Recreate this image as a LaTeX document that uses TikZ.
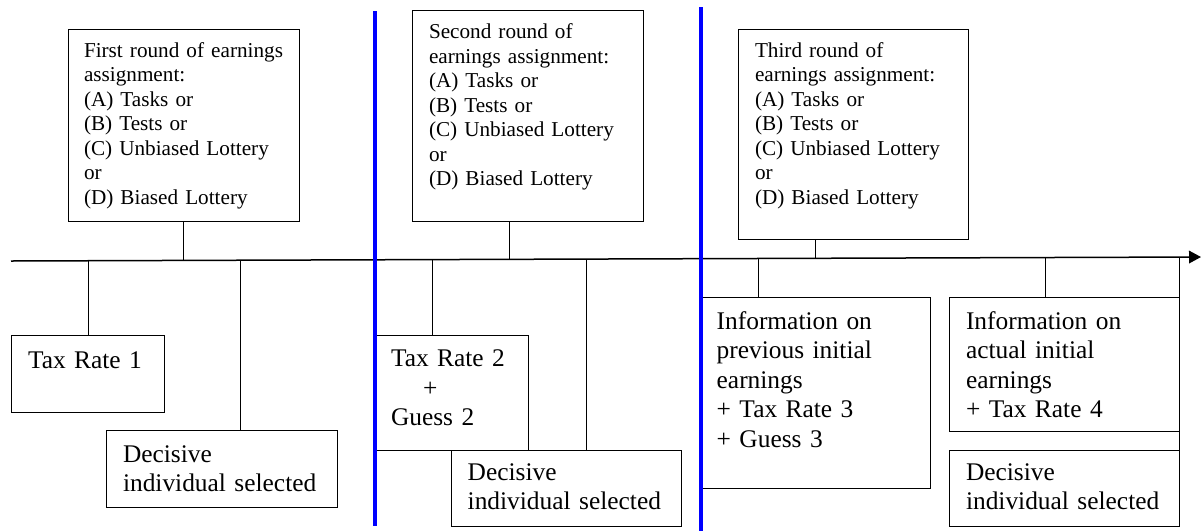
\documentclass[tikz,border=0pt]{standalone}
\usepackage{fontspec}
\setmainfont{Liberation Serif}
\usetikzlibrary{arrows.meta,calc}
\definecolor{divblue}{RGB}{0,0,255}
\tikzset{
 box/.style={draw, line width=1pt, anchor=north west, align=left, inner ysep=0pt, outer sep=0pt},
 topbox/.style={box, font=\fontsize{21.2}{24.5}\selectfont},
 lowbox/.style={box, font=\fontsize{25.4}{29.5}\selectfont},
 conn/.style={line width=1pt},
 timeline/.style={line width=1.5pt,-{Triangle[length=12pt,width=12.6pt]}},
 divider/.style={line width=4pt, draw=divblue},
}
\begin{document}
\begin{tikzpicture}[x=1pt,y=-1pt]
\useasboundingbox (0,0) rectangle (1204,531);
% timeline
\coordinate (tlA) at (11,261);
\coordinate (tlB) at (1201,257);
\draw[timeline] (tlA) -- (tlB);
% top boxes
\node[topbox, inner xsep=16pt, text width=199pt, text height=28pt, text depth=164pt] (r1) at (68,29)
 {\mbox{First round of earnings}\\assignment:\\(A) Tasks or\\(B) Tests or\\(C) Unbiased Lottery\\or\\(D) Biased Lottery};
\node[topbox, inner xsep=16.3pt, text width=197.7pt, text height=28.5pt, text depth=182.5pt] (r2) at (412.7,10)
 {Second round of\\earnings assignment:\\(A) Tasks or\\(B) Tests or\\(C) Unbiased Lottery\\or\\(D) Biased Lottery};
\node[topbox, inner xsep=16.3pt, text width=197.4pt, text height=28pt, text depth=182pt] (r3) at (738.7,29)
 {Third round of\\earnings assignment:\\(A) Tasks or\\(B) Tests or\\(C) Unbiased Lottery\\or\\(D) Biased Lottery};
% lower boxes
\node[lowbox, inner xsep=17pt, text width=119.7pt, text height=33pt, text depth=44pt] (tax1) at (11,335) {Tax Rate 1};
\node[lowbox, inner xsep=16.3pt, text width=197.7pt, text height=31.3pt, text depth=45pt] (dec1) at (106.7,430.7) {Decisive\\individual selected};
\node[lowbox, inner xsep=15.7pt, text width=121.6pt, text height=31.7pt, text depth=83.3pt] (tax2) at (375.3,335) {Tax Rate 2\\\hspace*{32pt}+\\Guess 2};
\node[lowbox, inner xsep=16pt, text width=198pt, text height=30pt, text depth=46pt] (dec2) at (451.7,450) {Decisive\\individual selected};
\node[lowbox, inner xsep=15pt, text width=198.6pt, text height=31.7pt, text depth=159pt] (info3) at (701.7,297.3) {Information on\\previous initial\\earnings\\+ Tax Rate 3\\+ Guess 3};
\node[lowbox, inner xsep=16.7pt, text width=196.6pt, text height=31.7pt, text depth=102pt] (info4) at (949.3,297.3) {Information on\\actual initial\\earnings\\+ Tax Rate 4};
\node[lowbox, inner xsep=16.7pt, text width=196.6pt, text height=30pt, text depth=46pt] (dec3) at (949.3,450) {Decisive\\individual selected};
% points on the timeline
\coordinate (t1) at (183,260.4);
\coordinate (t2) at (509,259.3);
\coordinate (t3) at (815.3,258.3);
\coordinate (t4) at (88,260.7);
\coordinate (t5) at (240.7,260.2);
\coordinate (t6) at (432.7,259.6);
\coordinate (t7) at (586,259);
\coordinate (t8) at (758,258.5);
\coordinate (t9) at (1045,257.5);
\coordinate (t10) at (1179.3,257);
% connectors
\draw[conn] (t1 |- r1.south) -- (t1);
\draw[conn] (t2 |- r2.south) -- (t2);
\draw[conn] (t3 |- r3.south) -- (t3);
\draw[conn] (t4) -- (t4 |- tax1.north);
\draw[conn] (t5) -- (t5 |- dec1.north);
\draw[conn] (t6) -- (t6 |- tax2.north);
\draw[conn] (t7) -- (t7 |- dec2.north);
\draw[conn] (t8) -- (t8 |- info3.north);
\draw[conn] (t9) -- (t9 |- info4.north);
\draw[conn] (t10) -- (t10 |- dec3.north);
% period dividers
\coordinate (d1a) at (375,11);
\coordinate (d1b) at (375,526);
\coordinate (d2a) at (701,7);
\coordinate (d2b) at (701,531);
\draw[divider] (d1a) -- (d1b);
\draw[divider] (d2a) -- (d2b);
\end{tikzpicture}
\end{document}
